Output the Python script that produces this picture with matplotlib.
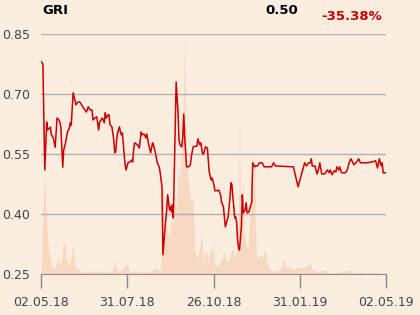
"""GRI price chart with volume shading, one year."""
import matplotlib
matplotlib.use("Agg")
import matplotlib.pyplot as plt
import numpy as np

BG = "#fcede1"
RED = "#cc0000"
VOL_COLOR = "#f7d9c2"
GRID = "#b4b0ad"

# position along the axis (day-equivalents, 0 = 02.05.18, 365 = 02.05.19)
price_t = [0, 2, 4, 6, 7, 10, 11, 13, 15, 17, 19, 20, 21, 23, 24, 26, 28, 30, 31, 32,
           33, 34, 35, 37, 39, 41, 43, 45, 48, 50, 52, 54, 55, 57, 59, 61, 62, 65, 67, 68,
           69, 71, 72, 73, 75, 77, 78, 79, 80, 81, 83, 84, 85, 86, 87, 88, 89, 90, 92, 94,
           96, 97, 98, 99, 102, 104, 106, 107, 109, 111, 112, 114, 116, 118, 119, 121, 123, 125, 126, 128,
           129, 131, 133, 134, 136, 137, 138, 139, 140, 143, 144, 145, 146, 147, 149, 150, 151, 152, 154, 156,
           158, 159, 161, 165, 166, 168, 169, 171, 172, 174, 176, 177, 178, 180, 181, 183, 184, 186, 188, 190,
           191, 193, 194, 195, 197, 198, 200, 201, 202, 203, 205, 206, 207, 208, 209, 210, 212, 213, 214, 216,
           217, 218, 220, 221, 223, 224, 226, 227, 229, 231, 234, 236, 244, 246, 248, 267, 269, 272, 276, 279,
           281, 283, 285, 286, 287, 290, 292, 294, 295, 297, 300, 303, 305, 306, 308, 310, 312, 313, 315, 316,
           318, 322, 324, 326, 328, 330, 331, 334, 336, 338, 345, 350, 354, 356, 358, 359, 360, 361, 362, 365]
price = [0.781, 0.775, 0.51, 0.63, 0.61, 0.617, 0.598, 0.59, 0.567, 0.64, 0.635, 0.63, 0.617, 0.517, 0.56, 0.578, 0.605, 0.615, 0.628, 0.622,
         0.665, 0.703, 0.693, 0.673, 0.68, 0.68, 0.673, 0.665, 0.655, 0.668, 0.66, 0.66, 0.635, 0.64, 0.643, 0.61, 0.63, 0.64, 0.628, 0.653,
         0.64, 0.648, 0.648, 0.623, 0.618, 0.585, 0.553, 0.555, 0.585, 0.603, 0.618, 0.605, 0.598, 0.603, 0.578, 0.548, 0.523, 0.51, 0.528, 0.53,
         0.535, 0.53, 0.56, 0.578, 0.573, 0.565, 0.605, 0.598, 0.6, 0.59, 0.6, 0.573, 0.553, 0.578, 0.573, 0.553, 0.528, 0.518, 0.505, 0.468,
         0.298, 0.36, 0.41, 0.448, 0.41, 0.418, 0.405, 0.423, 0.39, 0.73, 0.693, 0.653, 0.585, 0.573, 0.568, 0.593, 0.65, 0.593, 0.518, 0.518,
         0.523, 0.543, 0.568, 0.57, 0.588, 0.573, 0.578, 0.55, 0.55, 0.568, 0.565, 0.535, 0.505, 0.485, 0.49, 0.473, 0.458, 0.458, 0.46, 0.448,
         0.43, 0.418, 0.393, 0.368, 0.385, 0.393, 0.443, 0.478, 0.473, 0.443, 0.39, 0.393, 0.378, 0.335, 0.315, 0.31, 0.368, 0.448, 0.403, 0.41,
         0.428, 0.403, 0.405, 0.415, 0.43, 0.528, 0.518, 0.52, 0.52, 0.528, 0.528, 0.518, 0.518, 0.528, 0.52, 0.518, 0.498, 0.468, 0.503, 0.528,
         0.52, 0.528, 0.528, 0.538, 0.52, 0.52, 0.5, 0.515, 0.528, 0.5, 0.5, 0.51, 0.503, 0.51, 0.498, 0.508, 0.505, 0.518, 0.51, 0.518,
         0.503, 0.503, 0.51, 0.528, 0.538, 0.528, 0.523, 0.53, 0.538, 0.528, 0.528, 0.53, 0.533, 0.515, 0.538, 0.528, 0.52, 0.528, 0.503, 0.503]

vol_t = [0, 2, 4, 5, 7, 11, 14, 18, 20, 21, 23, 25, 27, 29, 32, 34, 36, 39, 46, 52,
         57, 62, 67, 73, 76, 78, 80, 85, 89, 90, 94, 99, 105, 110, 115, 122, 126, 127, 129, 131,
         132, 134, 136, 138, 140, 142, 143, 145, 147, 149, 150, 152, 153, 154, 156, 158, 159, 161, 163, 165,
         168, 170, 172, 174, 175, 177, 179, 180, 182, 184, 187, 191, 193, 195, 196, 198, 201, 203, 205, 207,
         209, 210, 211, 212, 213, 215, 217, 219, 221, 222, 224, 226, 227, 228, 232, 235, 237, 239, 242, 249,
         255, 257, 259, 263, 267, 271, 274, 278, 281, 285, 287, 292, 295, 300, 306, 316, 327, 330, 338, 344,
         350, 355, 359, 365]
volume = [0, 60, 105, 70, 34, 6, 4, 16, 11, 5, 27, 32, 17, 6, 17, 29, 6, 5, 2, 3,
          2, 3, 2, 3, 5, 14, 4, 3, 9, 11, 2, 3, 2, 2, 3, 6, 3, 10, 94, 40,
          50, 44, 35, 57, 45, 81, 60, 111, 90, 131, 150, 238, 150, 111, 94, 77, 74, 74, 21, 15,
          27, 40, 11, 20, 24, 10, 26, 20, 31, 6, 9, 14, 22, 18, 14, 12, 21, 26, 17, 24,
          60, 157, 80, 22, 102, 40, 30, 24, 60, 99, 70, 124, 40, 16, 19, 17, 26, 11, 4, 3,
          7, 16, 6, 7, 4, 6, 7, 6, 9, 11, 4, 2, 3, 4, 1, 2, 4, 1, 2, 1,
          2, 2, 1, 1]

tick_labels = ["02.05.18", "31.07.18", "26.10.18", "31.01.19", "02.05.19"]
y_ticks = [0.25, 0.40, 0.55, 0.70, 0.85]

fig = plt.figure(figsize=(4.2, 3.15), dpi=100, facecolor=BG)
ax = fig.add_axes([41 / 420, 1 - 274 / 315, 345 / 420, 240 / 315])
ax2 = ax.twinx()

ax2.fill_between(vol_t, volume, 0, color=VOL_COLOR, lw=0)
ax2.set_ylim(0, 240)
ax2.axis("off")

ax.set_zorder(ax2.get_zorder() + 1)
ax.patch.set_visible(False)
ax2.set_facecolor(BG)

ax.plot(price_t, price, color=RED, lw=1.1)
ax.set_xlim(0, 365)
ax.set_ylim(0.25, 0.85)
ax.set_yticks(y_ticks)
ax.set_yticklabels([f"{v:.2f}" for v in y_ticks])
ax.set_xticks(np.linspace(0, 365, len(tick_labels)))
ax.set_xticklabels(tick_labels)
for v in y_ticks[1:]:
    ax.axhline(v, color=GRID, lw=1, zorder=0)

for s in ("top", "right", "left"):
    ax.spines[s].set_visible(False)
ax.spines["bottom"].set_color("#8a8a8a")
ax.tick_params(axis="y", length=0, pad=8, labelsize=9, labelcolor="#444444")
ax.tick_params(axis="x", length=10, width=1, color="#8a8a8a", pad=6,
               labelsize=9, labelcolor="#444444")

fig.text(42 / 420, 1 - 10 / 315, "GRI", fontsize=9.5, fontweight="bold",
         va="center", ha="left", color="black")
fig.text(298 / 420, 1 - 10 / 315, "0.50", fontsize=9.5, fontweight="bold",
         va="center", ha="right", color="black")
fig.text(382 / 420, 1 - 17 / 315, "-35.38%", fontsize=9.5, fontweight="bold",
         va="center", ha="right", color=RED)

fig.savefig("out.png", dpi=100, facecolor=BG)
